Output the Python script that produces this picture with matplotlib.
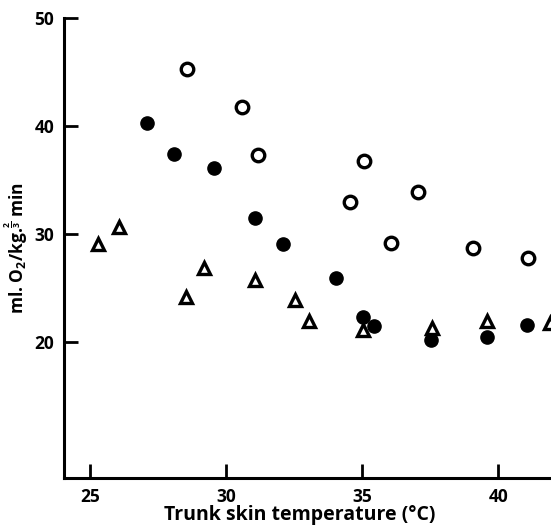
import numpy as np
from matplotlib import pyplot as plt

# open circles
open_x = [28.54, 30.56, 31.18, 35.06, 37.03, 34.55, 36.05, 39.05, 41.10]
open_y = [45.28, 41.73, 37.31, 36.76, 33.86, 33.00, 29.19, 28.67, 27.75]

# filled circles
filled_x = [27.08, 28.08, 29.55, 31.07, 32.07, 34.03, 35.03, 35.43, 37.52, 39.57, 41.06]
filled_y = [40.28, 37.44, 36.14, 31.48, 29.04, 25.95, 22.34, 21.48, 20.19, 20.46, 21.57]

# triangles
tri_x = [25.30, 26.06, 29.17, 28.52, 31.05, 32.54, 33.03, 35.03, 37.54, 39.57, 41.90]
tri_y = [29.04, 30.68, 26.82, 24.17, 25.74, 23.86, 21.98, 21.11, 21.27, 21.94, 21.79]

XTICKS = [25, 30, 35, 40]
YTICKS = [20, 30, 40, 50]


def main():
	plt.rcParams['font.family'] = ['Open Sans', 'DejaVu Sans']
	plt.rcParams['mathtext.fontset'] = 'custom'
	plt.rcParams['mathtext.rm'] = 'Open Sans:bold'
	plt.rcParams['mathtext.bf'] = 'Open Sans:bold'

	fig = plt.figure(figsize=(5.51, 5.29), dpi=100)
	ax = fig.add_axes([0.116, 0.0964, 0.884, 0.8696])

	ax.plot(open_x, open_y, linestyle='none', marker='o', markersize=9,
			markerfacecolor='white', markeredgecolor='black', markeredgewidth=2.4)
	ax.plot(filled_x, filled_y, linestyle='none', marker='o', markersize=9.5,
			color='black')
	ax.plot(tri_x, tri_y, linestyle='none', marker='^', markersize=9,
			markerfacecolor='white', markeredgecolor='black', markeredgewidth=2.4)

	ax.set_xlim(24.03, 41.93)
	ax.set_ylim(7.4, 50)
	ax.set_xticks(XTICKS)
	ax.set_yticks(YTICKS)

	for side in ['top', 'right']:
		ax.spines[side].set_visible(False)
	for side in ['left', 'bottom']:
		ax.spines[side].set_linewidth(2.2)

	ax.tick_params(direction='in', length=10, width=2, labelsize=12.5, pad=7)
	for lbl in ax.get_xticklabels() + ax.get_yticklabels():
		lbl.set_fontweight('bold')

	ax.set_xlabel('Trunk skin temperature (°C)', fontsize=14, fontweight='bold')
	ax.xaxis.set_label_coords(0.485, -0.058)
	ax.set_ylabel(r'ml. O$_\mathbf{2}$/kg.$^{\mathbf{\frac{2}{3}}}$ min', fontsize=12.5,
				  fontweight='bold', labelpad=3)

	plt.savefig('out.png', dpi=100)


if __name__ == "__main__":
	main()
